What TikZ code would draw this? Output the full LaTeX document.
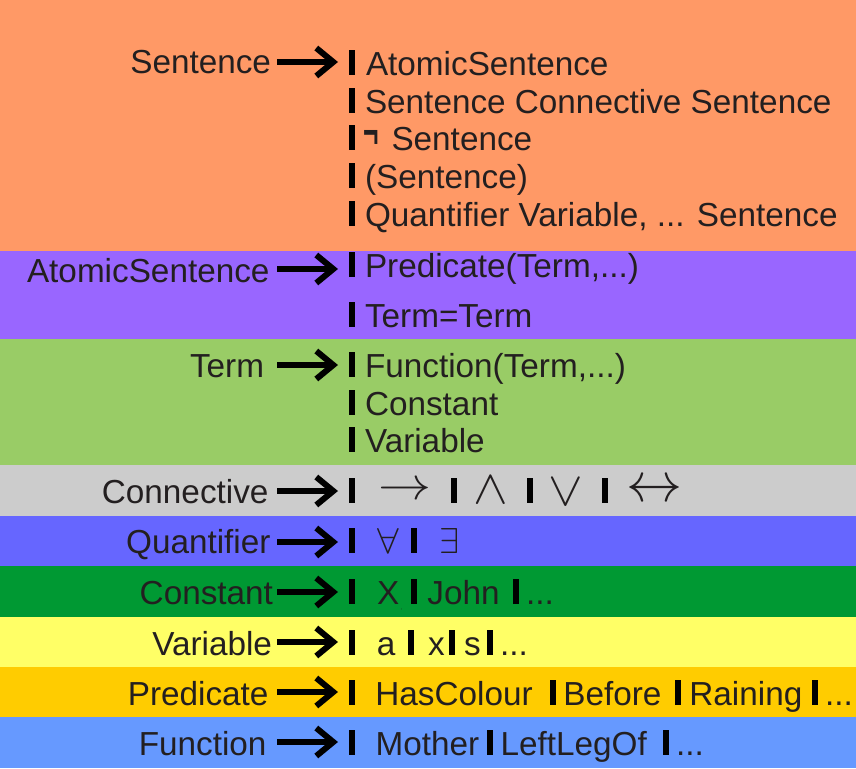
\documentclass[tikz,border=0pt]{standalone}
\usepackage{fontspec}
\setmainfont{Liberation Sans}
\usetikzlibrary{arrows.meta}
\definecolor{cOrange}{HTML}{FF9966}
\definecolor{cPurple}{HTML}{9966FF}
\definecolor{cLGreen}{HTML}{99CC66}
\definecolor{cGray}{HTML}{CCCCCC}
\definecolor{cBlueP}{HTML}{6666FF}
\definecolor{cDGreen}{HTML}{009933}
\definecolor{cYellow}{HTML}{FFFF66}
\definecolor{cGold}{HTML}{FFCC00}
\definecolor{cBlue}{HTML}{6699FF}
\definecolor{ink}{HTML}{231F20}
\newcommand\barat[3]{\node[barbox] (#1) at (#2,{#3-12.5}) {};}
\begin{document}
\begin{tikzpicture}[x=1pt,y=-1pt,
  txt/.style={inner sep=0pt, outer sep=0pt, text=ink, font=\fontsize{33.3}{40}\selectfont},
  lab/.style={txt, anchor=base east},
  rhs/.style={txt, anchor=base west},
  sym/.style={inner sep=0pt, outer sep=0pt, text=ink},
  barbox/.style={fill=black, minimum width=6pt, minimum height=25pt, inner sep=0pt, outer sep=0pt},
  arr/.style={draw=black, line width=6pt, -{Straight Barb[length=17pt,width=28pt]}, shorten >=11pt}]
\useasboundingbox (0,0) rectangle (856,768);
\clip (0,0) rectangle (856,768);
% bands
\fill[cOrange] (0,0) rectangle (856,251);
\fill[cPurple] (0,251) rectangle (856,339);
\fill[cLGreen] (0,339) rectangle (856,465);
\fill[cGray] (0,465) rectangle (856,516);
\fill[cBlueP] (0,516) rectangle (856,566);
\fill[cDGreen] (0,566) rectangle (856,617);
\fill[cYellow] (0,617) rectangle (856,667);
\fill[cGold] (0,667) rectangle (856,717);
\fill[cBlue] (0,717) rectangle (856,768);

% Sentence
\node[lab] (lSen) at (271,74) {Sentence};
\barat{bS1}{352}{75}
\barat{bS2}{352}{113}
\barat{bS3}{352}{150}
\barat{bS4}{352}{188}
\barat{bS5}{352}{226}
\node[rhs] (rS1) at (366,75) {AtomicSentence};
\node[rhs] (rS2) at (365,113) {Sentence Connective Sentence};
\node[sym, anchor=base west, font=\bfseries\fontsize{22}{22}\selectfont] (rS3n) at (363,147) {\scalebox{1.2}[2.0]{¬}};
\node[rhs] (rS3) at (391.5,150) {Sentence};
\node[rhs] (rS4) at (365,188) {(Sentence)};
\node[rhs] (rS5) at (365,226) {Quantifier Variable, ... Sentence};
\coordinate (aSen) at (277,62);
\draw[arr] (aSen) -- (aSen -| bS1.west);

% AtomicSentence
\node[lab] (lAt) at (269.5,282) {AtomicSentence};
\barat{bA1}{352}{277}
\barat{bA2}{352}{327}
\node[rhs] (rA1) at (365,277) {Predicate(Term,...)};
\node[rhs] (rA2) at (365,327) {Term=Term};
\coordinate (aAt) at (277,269);
\draw[arr] (aAt) -- (aAt -| bA1.west);

% Term
\node[lab] (lTerm) at (264,377) {Term};
\barat{bT1}{352}{377}
\barat{bT2}{352}{415}
\barat{bT3}{352}{452}
\node[rhs] (rT1) at (365,377) {Function(Term,...)};
\node[rhs] (rT2) at (365,415) {Constant};
\node[rhs] (rT3) at (365,452) {Variable};
\coordinate (aTerm) at (277,365);
\draw[arr] (aTerm) -- (aTerm -| bT1.west);

% Connective
\node[lab] (lCon) at (268.5,503) {Connective};
\barat{bC1}{352}{503}
\barat{bC2}{454}{503}
\barat{bC3}{530}{503}
\barat{bC4}{605}{503}
\node[sym] (cImp) at (404.5,491) {\scalebox{5.3}[4.6]{$\rightarrow$}};
\node[sym, anchor=base] (cAnd) at (491,503) {\scalebox{5.2}[4.8]{$\wedge$}};
\node[sym, anchor=base] (cOr) at (566,505.5) {\scalebox{5.2}[4.8]{$\vee$}};
\node[sym] (cIff) at (654,491) {\scalebox{5.6}{$\leftrightarrow$}};
\coordinate (aCon) at (277,491);
\draw[arr] (aCon) -- (aCon -| bC1.west);

% Quantifier
\node[lab] (lQ) at (270.5,553) {Quantifier};
\barat{bQ1}{352}{553}
\barat{bQ2}{414}{553}
\node[sym, anchor=base] (qAll) at (388.5,553) {\scalebox{3.9}[3.6]{$\forall$}};
\node[sym, anchor=base] (qEx) at (449,553) {\scalebox{3.6}{$\exists$}};
\coordinate (aQ) at (277,542);
\draw[arr] (aQ) -- (aQ -| bQ1.west);

% Constant
\node[lab] (lK) at (273,604) {Constant};
\barat{bK1}{352}{604}
\barat{bK2}{414}{604}
\barat{bK3}{516}{604}
\node[rhs] (kX) at (377,604) {X};
\node[sym, anchor=base west, font=\fontsize{5}{5}\selectfont] (kC) at (401,609) {,};
\node[rhs] (kJ) at (427.4,604) {John};
\node[rhs] (kD) at (526,604) {...};
\coordinate (aK) at (277,592);
\draw[arr] (aK) -- (aK -| bK1.west);

% Variable
\node[lab] (lV) at (272,655) {Variable};
\barat{bV1}{352}{655}
\barat{bV2}{410.5}{655}
\barat{bV3}{452}{655}
\barat{bV4}{490}{655}
\node[rhs] (vA) at (376.8,655) {a};
\node[rhs] (vX) at (428,655) {x};
\node[rhs] (vS) at (464,655) {s};
\node[rhs] (vD) at (500,655) {...};
\coordinate (aV) at (277,642);
\draw[arr] (aV) -- (aV -| bV1.west);

% Predicate
\node[lab] (lP) at (268.5,705) {Predicate};
\barat{bP1}{352}{705}
\barat{bP2}{553}{705}
\barat{bP3}{678}{705}
\barat{bP4}{815}{705}
\node[rhs] (pH) at (375.4,705) {HasColour};
\node[rhs] (pB) at (563.4,705) {Before};
\node[rhs] (pR) at (689.4,705) {Raining};
\node[rhs] (pD) at (825,705) {...};
\coordinate (aP) at (277,692);
\draw[arr] (aP) -- (aP -| bP1.west);

% Function
\node[lab] (lF) at (266.5,755) {Function};
\barat{bF1}{352}{755}
\barat{bF2}{490}{755}
\barat{bF3}{666}{755}
\node[rhs] (fM) at (375.6,755) {Mother};
\node[rhs] (fL) at (500.5,755) {LeftLegOf};
\node[rhs] (fD) at (676,755) {...};
\coordinate (aF) at (277,742);
\draw[arr] (aF) -- (aF -| bF1.west);
\end{tikzpicture}
\end{document}
